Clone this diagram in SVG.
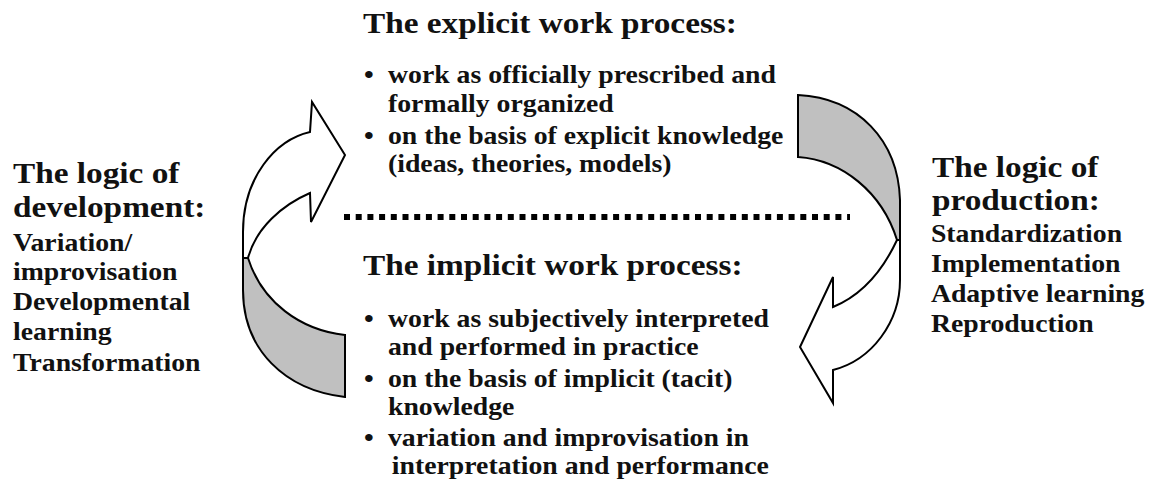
<svg xmlns="http://www.w3.org/2000/svg" width="1153" height="487" viewBox="0 0 1153 487">
<style>
text{font-family:"Liberation Serif","Times New Roman",serif;font-weight:bold;fill:#111;}
.h{font-size:30px;}
.b{font-size:25px;}
.arrow{stroke:#000;stroke-width:2;stroke-linejoin:miter;}
.white{fill:#fff;}
.gray{fill:#c0c0c0;}
</style>
<rect width="1153" height="487" fill="#fff"/>
<g id="connectors">
<g id="left-arrow" class="arrow">
<path class="gray" d="M248 258 C262 302,300 330,345 335 L345 397 C285 390,243 350,243 290 L243 258 Z"/>
<path class="white" d="M310 132 L312 102 L345 155 L311 222 L310 193 C282 205,256 228,248 258 L243 258 L243 232 C243 178,275 140,310 132 Z"/>
</g>
<g id="right-arrow" class="arrow">
<path class="gray" d="M798 95 C858 98,898 140,900 200 L900 240 L897 240 C882 192,842 160,798 157 Z"/>
<path class="white" d="M897 240 C882 272,860 296,833 307 L833 277 L800 347 L833 403 L833 370 C872 360,900 322,900 280 L900 240 Z"/>
</g>
<line id="divider" x1="344" y1="217" x2="850" y2="217" stroke="#000" stroke-width="6" stroke-dasharray="6 5.7"/>
</g>
<g id="explicit" transform="translate(363,0) scale(1.11,1)">
<text class="h" x="0" y="33">The explicit work process:</text>
<text class="b" x="1" y="83">•</text>
<text class="b" x="22.5" y="83">work as officially prescribed and</text>
<text class="b" x="22.5" y="112">formally organized</text>
<text class="b" x="1" y="144">•</text>
<text class="b" x="22.5" y="144">on the basis of explicit knowledge</text>
<text class="b" x="22.5" y="172">(ideas, theories, models)</text>
</g>
<g id="implicit" transform="translate(363,0) scale(1.11,1)">
<text class="h" x="0" y="275">The implicit work process:</text>
<text class="b" x="1" y="327">•</text>
<text class="b" x="22.5" y="327">work as subjectively interpreted</text>
<text class="b" x="22.5" y="355">and performed in practice</text>
<text class="b" x="1" y="387">•</text>
<text class="b" x="22.5" y="387">on the basis of implicit (tacit)</text>
<text class="b" x="22.5" y="415">knowledge</text>
<text class="b" x="1" y="446">•</text>
<text class="b" x="22.5" y="446">variation and improvisation in</text>
<text class="b" x="26" y="474">interpretation and performance</text>
</g>
<g id="development" transform="translate(13,0) scale(1.11,1)">
<text class="h" x="0" y="183">The logic of</text>
<text class="h" x="0" y="217">development:</text>
<text class="b" x="0" y="251">Variation/</text>
<text class="b" x="0" y="280">improvisation</text>
<text class="b" x="0" y="310">Developmental</text>
<text class="b" x="0" y="340">learning</text>
<text class="b" x="0" y="371">Transformation</text>
</g>
<g id="production" transform="translate(932,0) scale(1.11,1)">
<text class="h" x="0" y="177">The logic of</text>
<text class="h" x="0" y="210">production:</text>
<text class="b" x="-1" y="242">Standardization</text>
<text class="b" x="-1" y="272">Implementation</text>
<text class="b" x="-1" y="302">Adaptive learning</text>
<text class="b" x="-1" y="332">Reproduction</text>
</g>
</svg>
